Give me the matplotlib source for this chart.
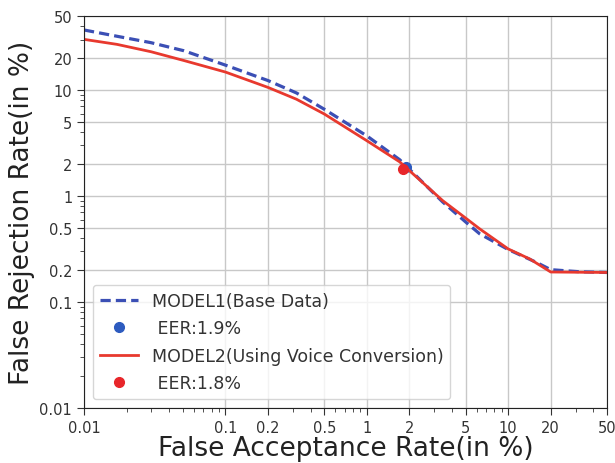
import matplotlib
matplotlib.use("Agg")
import matplotlib.pyplot as plt

fa_model1 = [0.01, 0.0171, 0.0298, 0.0509, 0.1, 0.2, 0.318, 0.5, 1.0, 1.71, 3.44, 5, 6.29, 10, 15.8, 20, 32, 50]
fr_model1 = [36.9, 32.2, 28.0, 23.5, 17.2, 12.3, 9.4, 6.6, 3.7, 2.2, 0.88, 0.57, 0.44, 0.313, 0.237, 0.202, 0.193, 0.19]
fa_model2 = [0.01, 0.0171, 0.0298, 0.0509, 0.1, 0.2, 0.318, 0.5, 1.0, 1.71, 3.44, 5, 6.29, 10, 14.2, 20, 50]
fr_model2 = [30.1, 27.0, 23.0, 19.0, 14.8, 10.6, 8.2, 5.95, 3.33, 2.1, 0.906, 0.62, 0.49, 0.317, 0.255, 0.192, 0.19]
eer1 = 1.9
eer2 = 1.8
tick_vals = [0.01, 0.1, 0.2, 0.5, 1, 2, 5, 10, 20, 50]
tick_labels = ["0.01", "0.1", "0.2", "0.5", "1", "2", "5", "10", "20", "50"]

fig = plt.figure(figsize=(6.15, 4.64), dpi=100)
ax = fig.add_axes([84/615, 1-409/464, (607-84)/615, (409-17)/464])

ax.plot(fa_model1, fr_model1, linestyle="--", color="#3b4fb5", lw=2.3,
        dashes=(3.2, 1.6), label="MODEL1(Base Data)")
ax.plot([eer1], [eer1], "o", color="#2d5bbf", ms=7, label=" EER:1.9%")
ax.plot(fa_model2, fr_model2, linestyle="-", color="#e8392e", lw=2.0, label="MODEL2(Using Voice Conversion)")
ax.plot([eer2], [eer2], "o", color="#e8262a", ms=7, label=" EER:1.8%")

ax.set_xscale("log")
ax.set_yscale("log")
ax.set_xlim(0.01, 50)
ax.set_ylim(0.01, 50)
ax.set_xticks(tick_vals)
ax.set_xticklabels(tick_labels)
ax.set_yticks(tick_vals)
ax.set_yticklabels(tick_labels)
ax.tick_params(axis="both", which="major", labelsize=10.5, colors="#333333", length=5)
ax.tick_params(axis="both", which="minor", length=3, colors="#333333")
ax.grid(True, which="major", color="#c8c8c8", lw=1.0)
for s in ax.spines.values():
    s.set_color("#222222")

ax.set_xlabel("False Acceptance Rate(in %)", fontsize=19, color="#222222", labelpad=0)
ax.set_ylabel("False Rejection Rate(in %)", fontsize=19, color="#222222", labelpad=3)

leg = ax.legend(loc="lower left", fontsize=12.5, frameon=True, borderaxespad=0.5,
                labelspacing=0.55, handlelength=2.2)
for t in leg.get_texts():
    t.set_color("#333333")

fig.savefig("out.png", dpi=100)
